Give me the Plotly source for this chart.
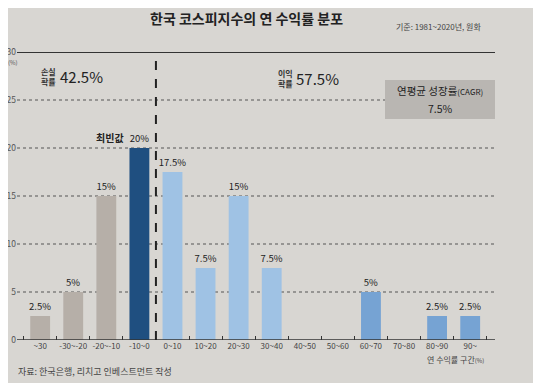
import plotly.graph_objects as go

categories = ["~30", "-30~-20", "-20~-10", "-10~0", "0~10", "10~20", "20~30",
              "30~40", "40~50", "50~60", "60~70", "70~80", "80~90", "90~"]
values = [2.5, 5, 15, 20, 17.5, 7.5, 15, 7.5, 0, 0, 5, 0, 2.5, 2.5]
labels = ["2.5%", "5%", "15%", "20%", "17.5%", "7.5%", "15%", "7.5%", "", "", "5%", "", "2.5%", "2.5%"]
colors = ["#b6afa8", "#b6afa8", "#b6afa8", "#1f4f80", "#9fc2e4", "#9fc2e4", "#9fc2e4",
          "#9fc2e4", "#9fc2e4", "#9fc2e4", "#76a3d3", "#9fc2e4", "#76a3d3", "#76a3d3"]
y_ticks = [0, 5, 10, 15, 20, 25, 30]

W, H = 541, 383
O = 8  # default page body margin
PL, PR, PT, PB = 17, 495, 52, 340   # plot area in page pixels
L, T = PL - O, PT - O
R, B = W - (PR - O), H - (PB - O)
FONT = "Noto Sans CJK KR"

def px(x):
    return (x - PL) / (PR - PL)

def py(y):
    return 1 - (y - PT) / (PB - PT)

fig = go.Figure()
fig.add_trace(go.Bar(
    x=categories, y=values, marker=dict(color=colors, line=dict(width=0)),
    width=0.6, text=labels, textposition="outside", cliponaxis=False,
    constraintext="none",
    textfont=dict(size=9.5, color="#222", family=FONT),
))

fig.update_layout(
    width=W, height=H, margin=dict(l=L, r=R, t=T, b=B, autoexpand=False),
    paper_bgcolor="#d8d6d2", plot_bgcolor="#d8d6d2",
    showlegend=False, bargap=0.4,
    font=dict(family=FONT, color="#333"),
    xaxis=dict(type="category", range=[-0.7, 13.75], showgrid=False, automargin=False,
               showline=False, zeroline=False, ticks="inside", tickson="boundaries",
               ticklen=4, tickcolor="#333", tickwidth=1, tickangle=0,
               tickfont=dict(size=8, color="#444", family=FONT)),
    yaxis=dict(range=[0, 30], tickvals=y_ticks, showgrid=False, zeroline=False,
               automargin=False, showline=False, ticks="",
               tickfont=dict(size=8.5, color="#555", family=FONT)),
)

for v in [5, 10, 15, 20, 25]:
    fig.add_shape(type="line", xref="paper", yref="y", x0=0, x1=1, y0=v, y1=v,
                  line=dict(color="#555", width=1, dash="dot"), layer="below")
fig.add_shape(type="line", xref="paper", yref="y", x0=0, x1=1, y0=30, y1=30,
              line=dict(color="#333", width=2))
fig.add_shape(type="line", xref="paper", yref="y", x0=0, x1=1, y0=0, y1=0,
              line=dict(color="#333", width=1.5))
fig.add_shape(type="line", xref="x", yref="y", x0=3.5, x1=3.5, y0=0, y1=30,
              line=dict(color="#222", width=2, dash="dash"))

fig.add_shape(type="rect", xref="paper", yref="paper", x0=px(385), x1=px(495),
              y0=py(119), y1=py(80), fillcolor="#b9b6b2", line=dict(width=0))

ann = []
ann.append(dict(text="<b>한국 코스피지수의 연 수익률 분포</b>", x=px(246), y=py(18),
                font=dict(size=14, color="#222")))
ann.append(dict(text="기준: 1981~2020년, 원화", x=px(438), y=py(27),
                font=dict(size=8, color="#444")))
ann.append(dict(text="(%)", x=px(13), y=py(62), xanchor="center",
                font=dict(size=6, color="#555")))
ann.append(dict(text="<b>손실<br>확률</b>", x=px(48), y=py(76),
                font=dict(size=8, color="#333")))
ann.append(dict(text="42.5%", x=px(81), y=py(76), font=dict(size=15, color="#222")))
ann.append(dict(text="<b>이익<br>확률</b>", x=px(285), y=py(78),
                font=dict(size=8, color="#333")))
ann.append(dict(text="57.5%", x=px(317), y=py(78), font=dict(size=15, color="#222")))
ann.append(dict(text="연평균 성장률<span style='font-size:8px'>(CAGR)</span>",
                x=px(440), y=py(91), font=dict(size=10.5, color="#222")))
ann.append(dict(text="7.5%", x=px(440), y=py(108), font=dict(size=10.5, color="#222")))
ann.append(dict(text="<b>최빈값</b>", x=px(110), y=py(137), font=dict(size=10, color="#222")))
ann.append(dict(text="연 수익률 구간<span style='font-size:6px'>(%)</span>", x=px(455), y=py(359),
                font=dict(size=8, color="#444")))
ann.append(dict(text="자료: 한국은행, 리치고 인베스트먼트 작성", x=px(95), y=py(371),
                font=dict(size=9, color="#444")))
for a in ann:
    a.setdefault("xanchor", "center")
    a.update(xref="paper", yref="paper", showarrow=False, yanchor="middle")
    fig.add_annotation(**a)

fig.write_html("out.html")
